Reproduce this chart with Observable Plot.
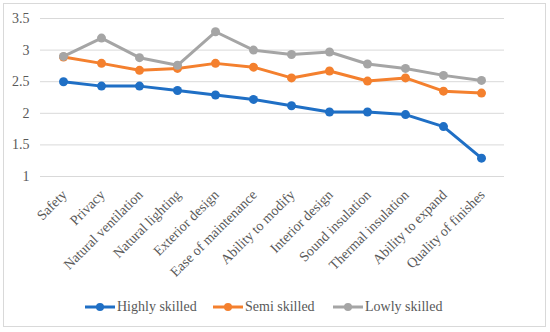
<!DOCTYPE html>
<html>
<head>
<meta charset="utf-8">
<script src="https://cdn.jsdelivr.net/npm/d3@7"></script>
<script src="https://cdn.jsdelivr.net/npm/@observablehq/plot@0.6"></script>
<style>
  html, body { margin: 0; padding: 0; background: #fff; }
  #wrap { position: relative; width: 550px; height: 332px; overflow: hidden; font-family: "Liberation Serif", serif; }
  #frame { position: absolute; left: 3px; top: 3px; width: 543px; height: 324px; border: 1px solid #d9d9d9; box-sizing: border-box; pointer-events: none; }
  #chart { position: absolute; left: 0; top: 0; }
  #legend { position: absolute; top: 297px; left: 0; width: 550px; height: 20px; font-size: 14px; color: #595959; }
  .item { position: absolute; top: 0; display: flex; align-items: center; height: 20px; white-space: nowrap; }
  .item svg { margin-right: 1px; }
</style>
</head>
<body>
<div id="wrap">
  <div id="chart"></div>
  <div id="legend"></div>
  <div id="frame"></div>
</div>
<script>
const categories = ["Safety", "Privacy", "Natural ventilation", "Natural lighting", "Exterior design", "Ease of maintenance", "Ability to modify", "Interior design", "Sound insulation", "Thermal insulation", "Ability to expand", "Quality of finishes"];
const seriesNames = ["Highly skilled", "Semi skilled", "Lowly skilled"];
const highlySkilled = [2.50, 2.43, 2.43, 2.36, 2.29, 2.22, 2.12, 2.02, 2.02, 1.98, 1.79, 1.29];
const semiSkilled   = [2.89, 2.79, 2.68, 2.71, 2.79, 2.73, 2.56, 2.67, 2.51, 2.56, 2.35, 2.32];
const lowlySkilled  = [2.90, 3.19, 2.88, 2.76, 3.29, 3.00, 2.93, 2.97, 2.78, 2.71, 2.60, 2.52];
const yTicks = [1, 1.5, 2, 2.5, 3, 3.5];
const colors = ["#1F6FC5", "#F4802E", "#A5A5A5"];

const seriesValues = [highlySkilled, semiSkilled, lowlySkilled];
const data = [];
seriesNames.forEach((s, i) => categories.forEach((c, j) => data.push({series: s, category: c, value: seriesValues[i][j]})));

const chart = Plot.plot({
  width: 550,
  height: 290,
  marginLeft: 40,
  marginRight: 46,
  marginTop: 18,
  marginBottom: 114,
  style: { fontFamily: "Liberation Serif, serif", fontSize: "14px", color: "#595959", background: "transparent" },
  x: { type: "point", domain: categories, padding: 0.5, label: null },
  y: { domain: [1, 3.5], ticks: yTicks, label: null },
  color: { domain: seriesNames, range: colors },
  marks: [
    Plot.gridY(yTicks, { stroke: "#d9d9d9", strokeOpacity: 1, strokeWidth: 1 }),
    Plot.axisY(yTicks, { tickSize: 0, tickPadding: 11, tickFormat: d => String(d), fontSize: 14, fill: "#595959", label: null }),
    Plot.axisX({ tickSize: 0, tickPadding: 8, dy: 8, dx: 1, tickRotate: -45, fontSize: 14, fill: "#595959", label: null }),
    Plot.line(data, { x: "category", y: "value", z: "series", stroke: "series", strokeWidth: 3, strokeLinejoin: "round", strokeLinecap: "round" }),
    Plot.dot(data, { x: "category", y: "value", fill: "series", r: 4.5, stroke: "none" })
  ]
});
document.getElementById("chart").appendChild(chart);

const legendX = [85, 213, 333];
const legend = document.getElementById("legend");
seriesNames.forEach((s, i) => {
  const item = document.createElement("div");
  item.className = "item";
  item.style.left = legendX[i] + "px";
  item.innerHTML = `<svg width="31" height="12"><line x1="0" x2="30" y1="6" y2="6" stroke="${colors[i]}" stroke-width="3"/><circle cx="15" cy="6" r="4" fill="${colors[i]}"/></svg><span>${s}</span>`;
  legend.appendChild(item);
});
</script>
</body>
</html>
